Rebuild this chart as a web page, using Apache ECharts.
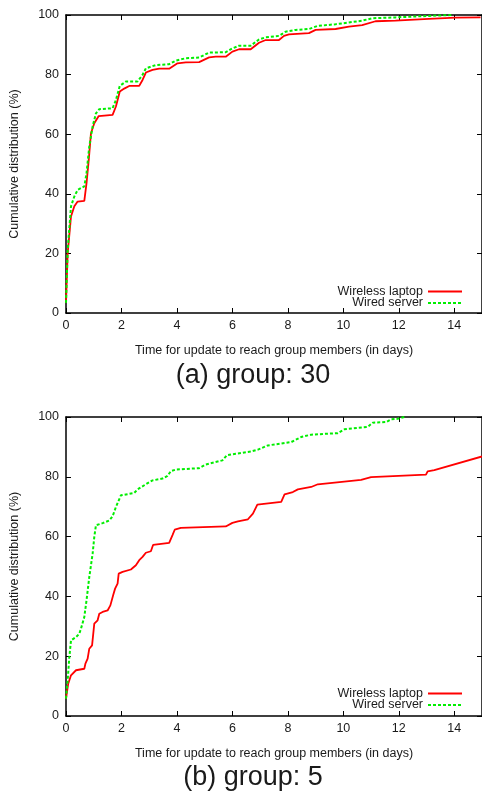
<!DOCTYPE html>
<html>
<head>
<meta charset="utf-8">
<script src="https://cdn.jsdelivr.net/npm/echarts@6/dist/echarts.min.js"></script>
<style>
  html, body { margin: 0; padding: 0; background: #fff; }
  #chart { width: 482px; height: 792px; }
</style>
</head>
<body>
<div id="chart"></div>
<script>
// (a) group: 30  -- [days, cumulative %]
const laptopA = [
  [0, 3.4], [0.06, 20], [0.18, 32.4], [0.3, 35.8], [0.42, 37.4], [0.66, 37.6],
  [0.74, 43.6], [0.82, 51.4], [0.9, 60.3], [1.02, 63.7], [1.18, 66.1], [1.68, 66.5],
  [1.8, 69.3], [1.94, 74.3], [2.1, 75.3], [2.28, 76.2], [2.64, 76.2], [2.76, 78.2],
  [2.88, 80.7], [3.12, 81.6], [3.36, 82], [3.72, 82], [4.02, 83.8], [4.32, 84.1],
  [4.8, 84.2], [5.16, 85.8], [5.4, 86], [5.76, 86], [6.0, 87.7], [6.24, 88.5],
  [6.66, 88.5], [6.96, 90.7], [7.2, 91.6], [7.68, 91.6], [7.86, 93], [8.04, 93.5],
  [8.76, 93.9], [9.0, 95], [9.72, 95.3], [10.2, 96.1], [10.68, 96.6], [11.16, 97.9],
  [11.88, 98.1], [13.08, 98.7], [14.04, 99.1], [14.95, 99.2]
];
const serverA = [
  [0, 3.4], [0.06, 21], [0.18, 35.8], [0.3, 39.1], [0.42, 41.3], [0.66, 42.5],
  [0.74, 46.9], [0.84, 55.9], [0.96, 62.6], [1.08, 67], [1.2, 68.4], [1.68, 68.7],
  [1.8, 71.5], [1.94, 76.2], [2.16, 77.7], [2.58, 77.7], [2.76, 79.9], [2.88, 82.1],
  [3.24, 83.2], [3.72, 83.5], [3.96, 84.7], [4.32, 85.5], [4.8, 85.7], [5.16, 87.4],
  [5.76, 87.5], [6.0, 88.8], [6.24, 89.7], [6.66, 89.7], [6.96, 91.8], [7.2, 92.5],
  [7.68, 93], [7.92, 94.4], [8.28, 95], [8.76, 95.3], [9.06, 96.3], [9.72, 96.9],
  [10.2, 97.5], [10.68, 98.1], [11.04, 98.9], [11.88, 99.2], [13.08, 99.7], [13.92, 100]
];

// (b) group: 5
const laptopB = [
  [0, 5.8], [0.08, 10.8], [0.18, 13.6], [0.36, 15.3], [0.66, 15.8], [0.7, 17.5],
  [0.78, 19.2], [0.84, 22.5], [0.94, 23.6], [1.02, 30.9], [1.14, 32], [1.2, 34.2],
  [1.32, 34.8], [1.5, 35.3], [1.6, 37], [1.7, 40.4], [1.77, 42.6], [1.86, 44.3],
  [1.9, 47.6], [2.04, 48.2], [2.34, 49], [2.52, 50.4], [2.64, 52.1], [2.76, 53.2],
  [2.88, 54.6], [3.06, 55.1], [3.14, 57.2], [3.36, 57.5], [3.72, 57.9], [3.84, 60.5],
  [3.92, 62.3], [4.14, 62.9], [5.76, 63.4], [6.0, 64.6], [6.2, 65.1], [6.56, 65.8],
  [6.74, 67.7], [6.9, 70.7], [7.76, 71.6], [7.88, 74.1], [8.18, 74.9], [8.36, 75.8],
  [8.84, 76.6], [9.08, 77.5], [10.64, 79], [11.0, 79.9], [12.98, 80.7], [13.04, 81.8],
  [13.28, 82.2], [15.0, 86.8]
];
const serverB = [
  [0, 5.8], [0.06, 11.9], [0.12, 19.7], [0.18, 25.3], [0.36, 26.4], [0.48, 27.5],
  [0.54, 29.2], [0.66, 33.1], [0.74, 38.7], [0.84, 46.5], [0.96, 54.3], [1.02, 59.9],
  [1.08, 63.8], [1.32, 64.5], [1.56, 65.4], [1.68, 66.8], [1.8, 69.9], [1.98, 73.8],
  [2.16, 74.1], [2.46, 74.6], [2.58, 75.8], [2.88, 77.5], [3.12, 78.8], [3.48, 79.4],
  [3.66, 80.3], [3.78, 81.9], [3.96, 82.4], [4.8, 82.9], [5.04, 84.1], [5.64, 85.5],
  [5.8, 87.2], [6.12, 87.7], [6.68, 88.5], [6.92, 89.1], [7.28, 90.5], [8.12, 91.6],
  [8.48, 93.3], [8.84, 94.1], [9.8, 94.6], [10.04, 95.9], [10.88, 96.7], [11.06, 98.1],
  [11.54, 98.3], [11.72, 99.2], [11.96, 99.4], [12.2, 100]
];

const seriesNames = ['Wireless laptop', 'Wired server'];
const subtitles = ['(a) group: 30', '(b) group: 5'];
const xTitle = 'Time for update to reach group members (in days)';
const yTitle = 'Cumulative distribution (%)';

const FONT = '"Liberation Sans", Arial, sans-serif';
const INK = '#1a1a1a';
const grids = [
  {left: 66, top: 15, width: 416, height: 298},
  {left: 66, top: 417, width: 416, height: 299}
];

function frame(extra) {
  return Object.assign({
    type: 'value',
    axisLine: {show: true, onZero: false, lineStyle: {color: '#000', width: 1.5}},
    axisTick: {show: true, inside: true, length: 5, lineStyle: {color: '#000'}},
    splitLine: {show: false}
  }, extra);
}

function bottomX(gi) {
  return frame({
    gridIndex: gi, position: 'bottom', min: 0, max: 15, interval: 2,
    name: xTitle, nameLocation: 'middle', nameGap: 31,
    nameTextStyle: {fontFamily: FONT, fontSize: 12.5, color: INK},
    axisLabel: {fontFamily: FONT, fontSize: 12.5, color: INK, margin: 6, showMaxLabel: false}
  });
}
function topX(gi) {
  return frame({gridIndex: gi, position: 'top', min: 0, max: 15, interval: 2, axisLabel: {show: false}});
}
function leftY(gi) {
  return frame({
    gridIndex: gi, position: 'left', min: 0, max: 100, interval: 20,
    name: yTitle, nameLocation: 'middle', nameGap: 45, nameRotate: 90,
    nameTextStyle: {fontFamily: FONT, fontSize: 12.5, color: INK},
    axisLabel: {fontFamily: FONT, fontSize: 12.5, color: INK, margin: 7}
  });
}
function rightY(gi) {
  return frame({gridIndex: gi, position: 'right', min: 0, max: 100, interval: 20, axisLabel: {show: false}});
}

function makeSeries(name, data, gi, dashed) {
  return {
    name: name, type: 'line', data: data,
    xAxisIndex: gi * 2, yAxisIndex: gi * 2,
    symbol: 'none', smooth: false, clip: true,
    lineStyle: dashed
      ? {color: '#00ee00', width: 2, type: [3, 2]}
      : {color: '#ff0000', width: 1.8},
    itemStyle: {color: dashed ? '#00ee00' : '#ff0000'}
  };
}

function makeLegend(top) {
  return {
    data: seriesNames, orient: 'vertical', align: 'right',
    right: 14, top: top, itemWidth: 34, itemHeight: 8, itemGap: -1.5,
    itemStyle: {opacity: 0},
    textStyle: {fontFamily: FONT, fontSize: 12.5, color: INK},
    selectedMode: false
  };
}

const chart = echarts.init(document.getElementById('chart'), null, {renderer: 'canvas'});
chart.setOption({
  backgroundColor: '#fff',
  animation: false,
  grid: grids,
  xAxis: [bottomX(0), topX(0), bottomX(1), topX(1)],
  yAxis: [leftY(0), rightY(0), leftY(1), rightY(1)],
  legend: [makeLegend(280), makeLegend(682)],
  series: [
    makeSeries(seriesNames[0], laptopA, 0, false),
    makeSeries(seriesNames[1], serverA, 0, true),
    makeSeries(seriesNames[0], laptopB, 1, false),
    makeSeries(seriesNames[1], serverB, 1, true)
  ],
  graphic: [
    {type: 'text', x: 253, y: 376, style: {text: subtitles[0], font: '27px ' + FONT, fill: INK, align: 'center', verticalAlign: 'middle'}},
    {type: 'text', x: 253, y: 778, style: {text: subtitles[1], font: '27px ' + FONT, fill: INK, align: 'center', verticalAlign: 'middle'}}
  ]
});
</script>
</body>
</html>
